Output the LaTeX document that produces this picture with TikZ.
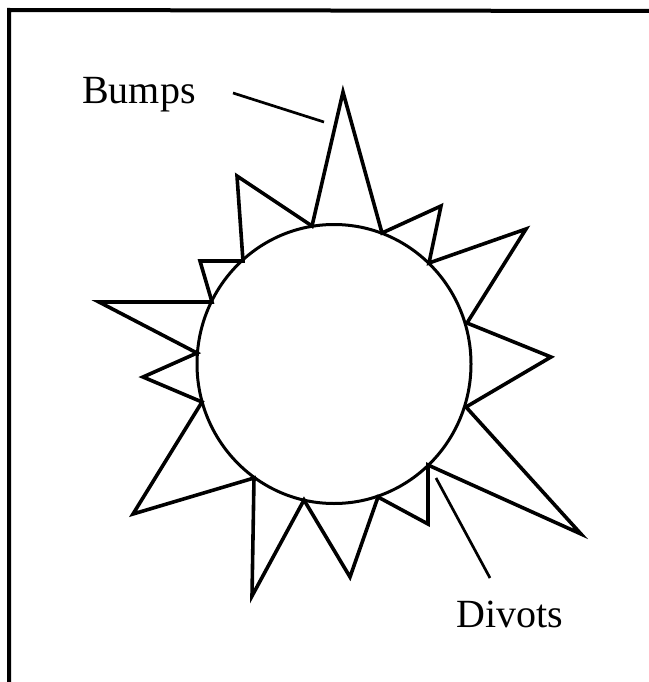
\documentclass[tikz,border=0pt]{standalone}
\usepackage{fontspec}
\setmainfont{Liberation Serif}
\begin{document}
\begin{tikzpicture}[x=1pt,y=-1pt,
  spike/.style={line width=3.6pt,line join=miter},
  ball/.style={line width=3pt},
  leader/.style={line width=2.7pt},
  frameline/.style={line width=4pt},
  lbl/.style={anchor=base west,inner sep=0pt,font=\fontsize{40}{48}\selectfont}]
\useasboundingbox (0,0) rectangle (648,682);
% frame (left and top edges)
\coordinate (fbl) at (9,684);
\coordinate (ftl) at (9,10);
\coordinate (ftr) at (650,11);
\draw[frameline] (fbl) -- (ftl) -- (ftr);
% circle
\draw[ball] (334,364) ellipse [x radius=137, y radius=139.5];
% base points on the circle
\coordinate (b1) at (312,226);
\coordinate (b2) at (382,233);
\coordinate (b3) at (429,263);
\coordinate (b4) at (467,323);
\coordinate (b5) at (466,407);
\coordinate (b6) at (428,465);
\coordinate (b7) at (378,497);
\coordinate (b8) at (304,500);
\coordinate (b9) at (254,478);
\coordinate (b10) at (202,402);
\coordinate (b11) at (197,353);
\coordinate (b12) at (212,302);
\coordinate (b13) at (243,261);
% tips
\coordinate (t1) at (343,92);
\coordinate (t2) at (441,206);
\coordinate (t3) at (526,229);
\coordinate (t4) at (551,357);
\coordinate (t5) at (581,534);
\coordinate (t6) at (428,524);
\coordinate (t7) at (350,577);
\coordinate (t8) at (252,596);
\coordinate (t9) at (133,514);
\coordinate (t10) at (143,377);
\coordinate (t11) at (99,302);
\coordinate (t12) at (200,261);
\coordinate (t13) at (237,176);
\draw[spike] (b1) -- (t1) -- (b2) -- (t2) -- (b3) -- (t3) -- (b4) -- (t4)
  -- (b5) -- (t5) -- (b6) -- (t6) -- (b7) -- (t7) -- (b8) -- (t8) -- (b9)
  -- (t9) -- (b10) -- (t10) -- (b11) -- (t11) -- (b12) -- (t12) -- (b13)
  -- (t13) -- cycle;
% labels
\node[lbl] (bumps) at (82,103) {Bumps};
\node[lbl] (divots) at (456,627) {Divots};
\coordinate (bl1) at (233,93);
\coordinate (bl2) at (324,122);
\coordinate (dl1) at (436,478);
\coordinate (dl2) at (490,578);
\draw[leader] (bl1) -- (bl2);
\draw[leader] (dl1) -- (dl2);
\end{tikzpicture}
\end{document}
